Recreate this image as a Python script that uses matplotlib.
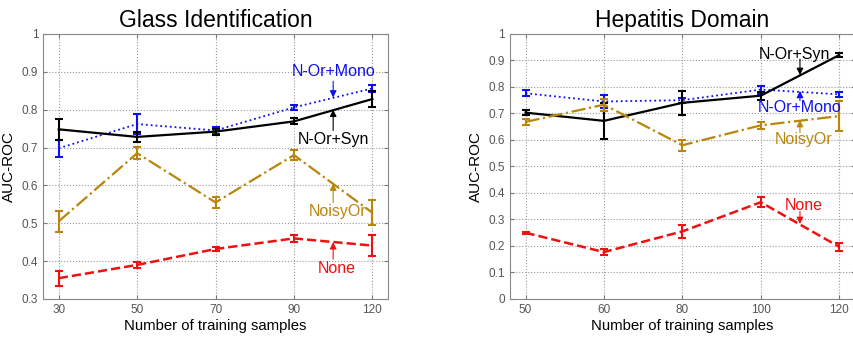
import matplotlib
matplotlib.use('Agg')
from matplotlib import pyplot as plt
from matplotlib.ticker import FormatStrFormatter
import numpy as np

plt.rcParams['font.family'] = ['Liberation Sans', 'DejaVu Sans']

# Glass Identification
glass_labels = ['30', '50', '70', '90', '120']
glass_mono = [0.698, 0.762, 0.745, 0.806, 0.856]
glass_mono_err = [0.022, 0.026, 0.009, 0.007, 0.010]
glass_syn = [0.748, 0.728, 0.742, 0.769, 0.828]
glass_syn_err = [0.028, 0.014, 0.008, 0.008, 0.020]
glass_noisy = [0.505, 0.685, 0.555, 0.680, 0.528]
glass_noisy_err = [0.027, 0.016, 0.015, 0.014, 0.033]
glass_none = [0.355, 0.390, 0.432, 0.460, 0.441]
glass_none_err = [0.020, 0.009, 0.006, 0.010, 0.028]

# Hepatitis Domain
hep_labels = ['50', '60', '80', '100', '120']
hep_mono = [0.776, 0.745, 0.750, 0.790, 0.772]
hep_mono_err = [0.012, 0.025, 0.010, 0.015, 0.010]
hep_syn = [0.703, 0.672, 0.740, 0.767, 0.920]
hep_syn_err = [0.010, 0.068, 0.045, 0.015, 0.008]
hep_noisy = [0.668, 0.733, 0.580, 0.655, 0.690]
hep_noisy_err = [0.012, 0.022, 0.020, 0.012, 0.055]
hep_none = [0.250, 0.177, 0.255, 0.365, 0.197]
hep_none_err = [0.003, 0.012, 0.025, 0.018, 0.015]

BLUE = '#1010ee'
BLACK = '#000000'
GOLD = '#b8860b'
RED = '#ee1111'


def draw(ax, title, labels, series, ylim, yticks, notes):
    x = np.arange(1, len(labels) + 1)
    for vals, errs, color, ls, lw in series:
        ax.errorbar(x, vals, yerr=errs, color=color, ls=ls, lw=lw,
                    capsize=3, capthick=1.5, elinewidth=1.5)
    for text, color, tx, ty, y0, y1 in notes:
        ax.text(tx, ty, text, color=color, fontsize=11.5, ha='center', va='center')
        ax.annotate('', xy=(4.5, y1), xytext=(4.5, y0),
                    arrowprops=dict(arrowstyle='-|>', color=color, lw=0.8,
                                    mutation_scale=10, shrinkA=0, shrinkB=0))
    ax.set_xlim(0.8, 5.2)
    ax.set_ylim(*ylim)
    ax.set_xticks(x)
    ax.set_xticklabels(labels)
    ax.set_yticks(yticks)
    ax.yaxis.set_major_formatter(FormatStrFormatter('%g'))
    ax.grid(True, ls=':', color='#999999', lw=0.8)
    ax.tick_params(direction='in', labelsize=8.5, labelcolor='#555555',
                   color='#777777', top=True, right=True, length=3)
    for s in ax.spines.values():
        s.set_color('#888888')
    ax.set_xlabel('Number of training samples', fontsize=10.7, labelpad=2)
    ax.set_ylabel('AUC-ROC', fontsize=11, labelpad=4)
    ax.set_title(title, fontsize=16.5, pad=5)


fig = plt.figure(figsize=(8.54, 3.39), dpi=100)
ax1 = fig.add_axes([0.0504, 0.118, 0.404, 0.782])
ax2 = fig.add_axes([0.597, 0.118, 0.404, 0.782])

draw(ax1, 'Glass Identification', glass_labels,
     [(glass_mono, glass_mono_err, BLUE, ':', 1.3),
      (glass_syn, glass_syn_err, BLACK, '-', 1.6),
      (glass_noisy, glass_noisy_err, GOLD, '-.', 1.6),
      (glass_none, glass_none_err, RED, '--', 1.8)],
     (0.3, 1.0), np.arange(0.3, 1.01, 0.1),
     [('N-Or+Mono', BLUE, 4.5, 0.90, 0.875, 0.832),
      ('N-Or+Syn', BLACK, 4.5, 0.72, 0.745, 0.800),
      ('NoisyOr', GOLD, 4.55, 0.53, 0.555, 0.605),
      ('None', RED, 4.55, 0.38, 0.405, 0.450)])

draw(ax2, 'Hepatitis Domain', hep_labels,
     [(hep_mono, hep_mono_err, BLUE, ':', 1.3),
      (hep_syn, hep_syn_err, BLACK, '-', 1.6),
      (hep_noisy, hep_noisy_err, GOLD, '-.', 1.6),
      (hep_none, hep_none_err, RED, '--', 1.8)],
     (0.0, 1.0), np.arange(0.0, 1.01, 0.1),
     [('N-Or+Syn', BLACK, 4.43, 0.923, 0.905, 0.845),
      ('N-Or+Mono', BLUE, 4.5, 0.724, 0.748, 0.785),
      ('NoisyOr', GOLD, 4.55, 0.603, 0.628, 0.675),
      ('None', RED, 4.55, 0.353, 0.33, 0.283)])

fig.savefig('out.png', dpi=100)
